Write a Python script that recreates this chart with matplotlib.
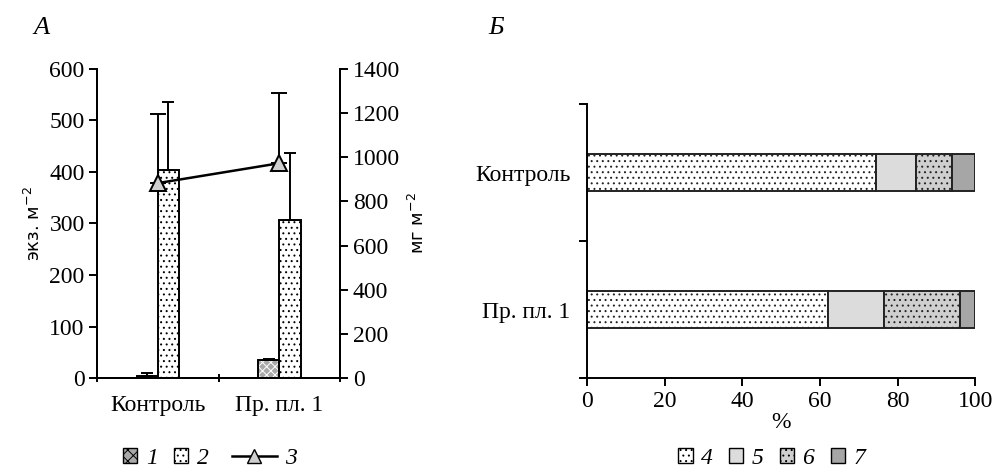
import matplotlib
matplotlib.use("Agg")
import matplotlib.pyplot as plt
import numpy as np
from matplotlib.patches import Patch
from matplotlib.lines import Line2D

plt.rcParams['font.family'] = ['Liberation Serif', 'DejaVu Serif']
plt.rcParams['font.size'] = 17
plt.rcParams['hatch.linewidth'] = 0.7
plt.rcParams['axes.linewidth'] = 1.4

# panel A data
sites = ['Контроль', 'Пр. пл. 1']
abund1 = [4, 34]          # series 1, экз. м-2
abund1_err = [5, 3]
abund2 = [404, 307]       # series 2, экз. м-2
abund2_err = [132, 130]
biomass = [883, 973]      # series 3, мг м-2
biomass_err = [313, 317]

# panel Б data (%), bottom row first
rows = ['Пр. пл. 1', 'Контроль']
share4 = [62.0, 74.5]
share5 = [14.4, 10.2]
share6 = [19.7, 9.4]
share7 = [3.9, 5.9]

DOTS = '...'

fig = plt.figure(figsize=(9.92, 4.69), dpi=100)

# ---- panel A
ax = fig.add_axes([0.098, 0.194, 0.245, 0.659])
ax2 = ax.twinx()
x = np.arange(len(sites))
w = 0.173
ax.bar(x - w / 2, abund1, w, color='#a9a9a9', edgecolor='white', hatch='xxxx', lw=0, zorder=2)
ax.bar(x - w / 2, abund1, w, color='none', edgecolor='black', lw=1.4, zorder=3)
ax.errorbar(x - w / 2, abund1, yerr=[[0, 0], abund1_err], fmt='none', ecolor='black',
            elinewidth=1.4, capsize=4, capthick=1.4, zorder=4)
ax.bar(x + w / 2, abund2, w, color='white', edgecolor='black', hatch=DOTS, lw=1.4, zorder=2)
ax.errorbar(x + w / 2, abund2, yerr=[[0, 0], abund2_err], fmt='none', ecolor='black',
            elinewidth=1.4, capsize=4, capthick=1.4, zorder=4)
ax2.errorbar(x, biomass, yerr=[[0, 0], biomass_err], color='black', lw=1.8, marker='^',
             ms=12, mfc='#cfcfcf', mec='black', mew=1.4, elinewidth=1.4, capsize=6, capthick=1.4)

ax.set_xlim(-0.5, 1.5)
ax.set_ylim(0, 600)
ax2.set_ylim(0, 1400)
ax.set_yticks(range(0, 601, 100))
ax2.set_yticks(range(0, 1401, 200))
ax.set_xticks([-0.5, 0.5, 1.5])
ax.set_xticklabels([])
ax.set_xticks(x, sites, minor=True)
ax.tick_params(axis='x', which='minor', length=0, pad=12)
ax.tick_params(axis='x', which='major', length=6, width=1.4, direction='inout')
ax.tick_params(axis='y', length=6, width=1.4, pad=3)
ax2.tick_params(axis='y', length=6, width=1.4, pad=3)
for a in (ax, ax2):
    a.spines['top'].set_visible(False)
ax.set_ylabel('экз. м$^{-2}$', family='DejaVu Sans', fontsize=13, labelpad=4)
ax2.set_ylabel('мг м$^{-2}$', family='DejaVu Sans', fontsize=13, labelpad=6)
fig.text(0.042, 0.94, 'A', style='italic', fontsize=19, ha='center', va='center')

legprops = dict(frameon=False, handleheight=0.6, handletextpad=0.35, columnspacing=0.7,
                borderpad=0, prop={'style': 'italic', 'size': 17})
h_a = [
    Patch(facecolor='#a9a9a9', edgecolor='black', hatch='xxx', lw=1),
    Patch(facecolor='white', edgecolor='black', hatch=DOTS, lw=1),
]
fig.legend(h_a, ['1', '2'], loc='center right', bbox_to_anchor=(0.222, 0.022), ncol=2,
           handlelength=0.6, **legprops)
h_line = [Line2D([], [], color='black', lw=1.8, marker='^', ms=10, mfc='#cfcfcf', mec='black')]
fig.legend(h_line, ['3'], loc='center left', bbox_to_anchor=(0.222, 0.022),
           handlelength=1.9, **legprops)

# ---- panel Б
bx = fig.add_axes([0.592, 0.194, 0.391, 0.584])
y = np.arange(len(rows))
hgt = 0.27
left = np.zeros(len(rows))
styles = [
    (share4, dict(color='white', hatch=DOTS)),
    (share5, dict(color='#dcdcdc')),
    (share6, dict(color='#cfcfcf', hatch=DOTS)),
    (share7, dict(color='#a6a6a6')),
]
for vals, st in styles:
    bx.barh(y, vals, hgt, left=left, edgecolor='#222222', lw=1.4, **st)
    left += np.array(vals)
bx.set_xlim(0, 100)
bx.set_ylim(-0.5, 1.5)
bx.set_xticks(range(0, 101, 20))
bx.set_yticks([-0.5, 0.5, 1.5])
bx.set_yticklabels([])
bx.set_yticks(y, rows, minor=True)
bx.tick_params(axis='y', which='minor', length=0, pad=12)
bx.tick_params(axis='y', which='major', length=6, width=1.4)
bx.tick_params(axis='x', length=6, width=1.4)
bx.spines['top'].set_visible(False)
bx.spines['right'].set_visible(False)
bx.set_xlabel('%', labelpad=0)
fig.text(0.5, 0.94, 'Б', style='italic', fontsize=19, ha='center', va='center')

h_b = [
    Patch(facecolor='white', edgecolor='black', hatch=DOTS, lw=1),
    Patch(facecolor='#dcdcdc', edgecolor='black', lw=1),
    Patch(facecolor='#cfcfcf', edgecolor='black', hatch=DOTS, lw=1),
    Patch(facecolor='#a6a6a6', edgecolor='black', lw=1),
]
fig.legend(h_b, ['4', '5', '6', '7'], loc='center', bbox_to_anchor=(0.778, 0.022), ncol=4,
           handlelength=0.6, **legprops)

fig.savefig('out.png', dpi=100)
